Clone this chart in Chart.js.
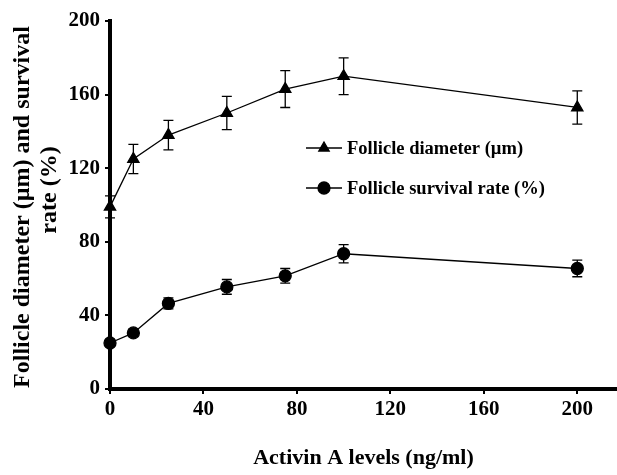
<!DOCTYPE html>
<html>
<head>
<meta charset="utf-8">
<script src="https://cdn.jsdelivr.net/npm/chart.js@4"></script>
<style>
  html, body { margin: 0; padding: 0; background: #fff; overflow: hidden; }
  #wrap { width: 617px; height: 475px; }
</style>
</head>
<body>
<div id="wrap"><canvas id="myChart" width="617" height="475"></canvas></div>
<script>
// dados
const doses = [0, 10, 25, 50, 75, 100, 200]
const diameter = [99, 125, 138, 150, 163, 170, 153]
const diameterErr = [6, 8, 8, 9, 10, 10, 9]
const survival = [25, 30.5, 46.5, 55.5, 61.5, 73.5, 65.5]
const survivalErr = [1.5, 2, 3, 4, 4, 5, 4.5]
const xTicks = [0, 40, 80, 120, 160, 200]
const yTicks = [0, 40, 80, 120, 160, 200]
const yTitle = ['Follicle diameter (µm) and survival', 'rate (%)']

const ctx = document.getElementById('myChart')
const fontFam = "'Liberation Serif', 'Times New Roman', serif"

const pts = (ys) => doses.map((d, i) => ({ x: d, y: ys[i] }))

// barras de erro
const errorBars = {
  id: 'errorBars',
  afterDatasetsDraw(chart) {
    const c = chart.ctx
    const xs = chart.scales.x, ys = chart.scales.y
    const errs = [diameterErr, survivalErr]
    c.save()
    c.strokeStyle = '#000'
    c.lineWidth = 1.3
    chart.data.datasets.forEach((ds, k) => {
      ds.data.forEach((p, i) => {
        const px = xs.getPixelForValue(p.x)
        const top = ys.getPixelForValue(p.y + errs[k][i])
        const bot = ys.getPixelForValue(p.y - errs[k][i])
        c.beginPath()
        c.moveTo(px, top); c.lineTo(px, bot)
        c.moveTo(px - 5, top); c.lineTo(px + 5, top)
        c.moveTo(px - 5, bot); c.lineTo(px + 5, bot)
        c.stroke()
      })
    })
    c.restore()
  }
}

// legenda dentro do grafico + titulo do eixo y
const innerLegend = {
  id: 'innerLegend',
  afterDraw(chart) {
    const c = chart.ctx
    const rows = [[306, 148], [306, 188]]
    c.save()
    c.font = 'bold 18.5px ' + fontFam
    c.textBaseline = 'middle'
    c.fillStyle = '#000'
    chart.data.datasets.forEach((ds, k) => {
      const [lx, ly] = rows[k]
      c.strokeStyle = '#000'
      c.lineWidth = 1.3
      c.beginPath(); c.moveTo(lx, ly); c.lineTo(lx + 36, ly); c.stroke()
      Chart.helpers.drawPoint(c, { pointStyle: ds.pointStyle, radius: 6, borderWidth: 1 }, lx + 18, ly)
      c.fillStyle = '#000'
      c.fillText(ds.label, lx + 41, ly + 1)
    })
    // titulo y em duas linhas
    c.font = 'bold 24px ' + fontFam
    c.textAlign = 'center'
    const spots = [[23, 207], [50, 190]]
    yTitle.forEach((t, k) => {
      c.save()
      c.translate(spots[k][0], spots[k][1])
      c.rotate(-Math.PI / 2)
      c.fillText(t, 0, 0)
      c.restore()
    })
    c.restore()
  }
}

grafico = new Chart(ctx, {
  type: 'scatter',
  data: {
    datasets: [{
      label: 'Follicle diameter (µm)',
      data: pts(diameter),
      showLine: true,
      borderColor: '#000',
      borderWidth: 1.3,
      backgroundColor: '#000',
      pointStyle: 'triangle',
      pointRadius: 6.5,
      clip: false
    }, {
      label: 'Follicle survival rate (%)',
      data: pts(survival),
      showLine: true,
      borderColor: '#000',
      borderWidth: 1.3,
      backgroundColor: '#000',
      pointStyle: 'circle',
      pointRadius: 6,
      clip: false
    }]
  },
  options: {
    responsive: false,
    animation: false,
    layout: { autoPadding: false, padding: { top: 21, right: 0, left: 0, bottom: 0 } },
    plugins: { legend: { display: false }, tooltip: { enabled: false } },
    scales: {
      x: {
        type: 'linear',
        min: 0, max: 217,
        afterBuildTicks: (s) => { s.ticks = xTicks.map(v => ({ value: v })) },
        afterFit: (s) => { s.height = 86 },
        border: { color: '#000', width: 4 },
        grid: { drawOnChartArea: false, color: '#000', lineWidth: 2, tickLength: 5 },
        ticks: { color: '#000', padding: 3, font: { family: fontFam, size: 21, weight: 'bold' } },
        title: {
          display: true,
          text: 'Activin A levels (ng/ml)',
          color: '#000',
          padding: { top: 0, bottom: 3 },
          font: { family: fontFam, size: 22, weight: 'bold' }
        }
      },
      y: {
        min: 0, max: 200,
        afterBuildTicks: (s) => { s.ticks = yTicks.map(v => ({ value: v })) },
        afterFit: (s) => { s.width = 110 },
        border: { color: '#000', width: 4 },
        grid: { drawOnChartArea: false, color: '#000', lineWidth: 2, tickLength: 5 },
        ticks: { color: '#000', padding: 5, font: { family: fontFam, size: 21, weight: 'bold' } },
        title: { display: false }
      }
    }
  },
  plugins: [errorBars, innerLegend]
})
</script>
</body>
</html>
